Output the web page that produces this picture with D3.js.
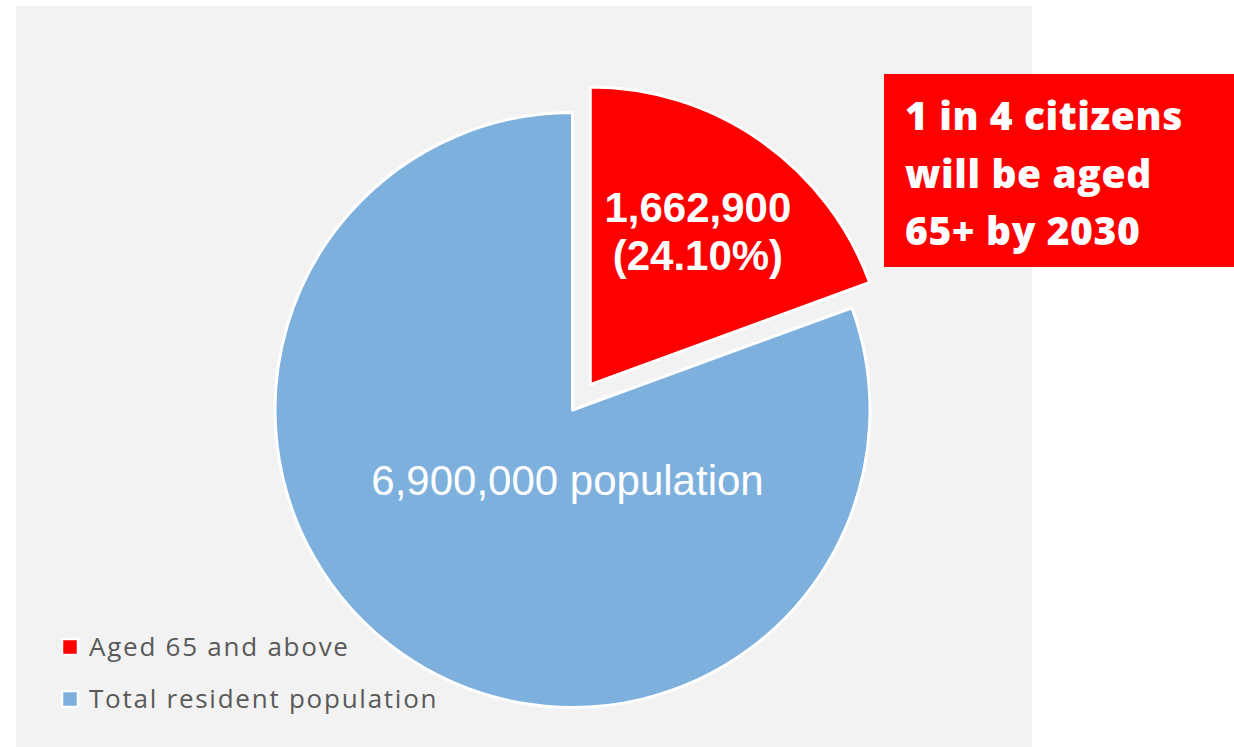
<!DOCTYPE html>
<html>
<head>
<meta charset="utf-8">
<script src="https://cdn.jsdelivr.net/npm/d3@7"></script>
<style>
  html, body { margin: 0; padding: 0; background: #ffffff; }
  svg { display: block; }
</style>
</head>
<body>
<svg id="chart" width="1234" height="747"></svg>
<script>
// ---- data ----
const categories = ["Aged 65 and above", "Total resident population"];
const values = [1662900, 6900000];
const sliceLabels = [["1,662,900", "(24.10%)"], ["6,900,000 population"]];
const colors = ["#ff0000", "#7eb0de"];
const calloutLines = ["1 in 4 citizens", "will be aged", "65+ by 2030"];

// ---- layout ----
const svg = d3.select("#chart");
const W = 1234, H = 747;

svg.append("rect").attr("x", 16).attr("y", 6).attr("width", 1016).attr("height", 741)
  .attr("fill", "#f2f2f2");

const cx = 572.5, cy = 410, R = 297.5;
const explode = 31;

const pie = d3.pie().sort(null).startAngle(0).endAngle(2 * Math.PI);
const arcs = pie(values);
const arc = d3.arc().innerRadius(0).outerRadius(R);

const g = svg.append("g").attr("transform", `translate(${cx},${cy})`);

function offset(d, i) {
  if (i !== 0) return [0, 0];
  const a = (d.startAngle + d.endAngle) / 2;
  return [Math.sin(a) * explode, -Math.cos(a) * explode];
}

g.selectAll("path.slice").data(arcs).join("path")
  .attr("class", "slice")
  .attr("d", arc)
  .attr("transform", (d, i) => { const o = offset(d, i); return `translate(${o[0]},${o[1]})`; })
  .attr("fill", (d, i) => colors[i])
  .attr("stroke", "#ffffff")
  .attr("stroke-width", 3)
  .attr("stroke-linejoin", "round");

{
  const d = arcs[0];
  const o = offset(d, 0);
  const a = (d.startAngle + d.endAngle) / 2;
  const r = 0.655 * R;
  const x = o[0] + Math.sin(a) * r;
  const y = o[1] - Math.cos(a) * r;
  const t = g.append("text")
    .attr("text-anchor", "middle")
    .attr("font-family", "'Liberation Sans', Arial, sans-serif")
    .attr("font-weight", "bold")
    .attr("font-size", 42)
    .attr("fill", "#ffffff");
  sliceLabels[0].forEach((s, k) => {
    t.append("tspan").attr("x", x - 4).attr("y", y - 3 + k * 48.5).text(s);
  });
}
g.append("text")
  .attr("x", -5).attr("y", 85)
  .attr("text-anchor", "middle")
  .attr("font-family", "'Liberation Sans', Arial, sans-serif")
  .attr("font-size", 42)
  .attr("fill", "#ffffff")
  .text(sliceLabels[1][0]);

function fitSpacing(sels, targetTotal) {
  let len = 0, n = 0;
  sels.forEach(s => { const node = s.node(); len += node.getComputedTextLength(); n += node.textContent.length; });
  return Math.max(0, (targetTotal - len) / n);
}

// legend
const legend = svg.append("g");
const legendY = [647.5, 699.5];
const legendTexts = [];
categories.forEach((c, i) => {
  legend.append("rect")
    .attr("x", 62).attr("y", legendY[i] - 8.5).attr("width", 16).attr("height", 16)
    .attr("fill", colors[i]).attr("stroke", "#ffffff").attr("stroke-width", 2.5);
  legendTexts.push(legend.append("text")
    .attr("x", 89).attr("y", legendY[i] + 8.5)
    .attr("font-family", "'Open Sans', 'Noto Sans', sans-serif")
    .attr("font-size", 26)
    .attr("fill", "#595959")
    .text(c));
});
const ls = fitSpacing(legendTexts, 264 + 346);
legendTexts.forEach(t => t.attr("letter-spacing", ls));

// callout box
svg.append("rect").attr("x", 884).attr("y", 74).attr("width", W - 884).attr("height", 193)
  .attr("fill", "#ff0000");
const calloutTexts = calloutLines.map((s, k) =>
  svg.append("text")
    .attr("x", 905).attr("y", 130 + k * 57.5)
    .attr("font-family", "'Open Sans', 'Noto Sans', sans-serif")
    .attr("font-weight", 800)
    .attr("font-size", 39)
    .attr("fill", "#ffffff")
    .text(s));
const cs = fitSpacing([calloutTexts[0]], 278);
calloutTexts.forEach(t => t.attr("letter-spacing", cs));
</script>
</body>
</html>
